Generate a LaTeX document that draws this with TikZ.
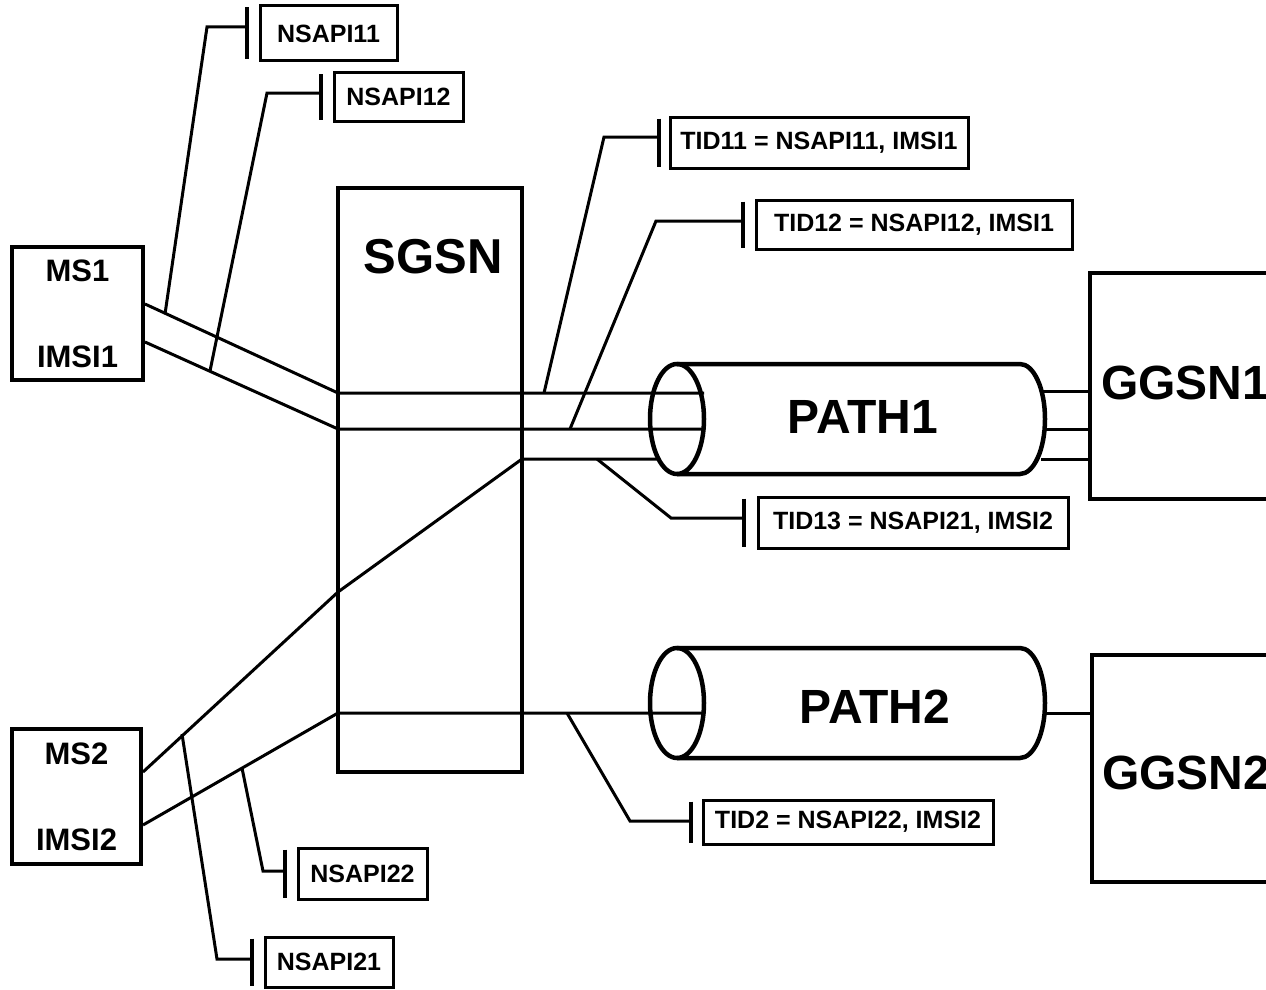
\documentclass[tikz,border=0pt]{standalone}
\usepackage{fontspec}
\setmainfont{Liberation Sans}
\usetikzlibrary{shapes.geometric}

\tikzset{
  unit/.style={draw, line width=4pt, inner sep=0pt},
  tag/.style={draw, line width=3pt, inner sep=0pt, font=\fontsize{25}{25}\selectfont\bfseries},
  wire/.style={line width=3pt},
  bar/.style={line width=4pt, shorten >=3pt, shorten <=3pt},
  pipe/.style={line width=4.5pt},
  pipeend/.style={draw, ellipse, line width=4.5pt, inner sep=0pt, outer sep=0pt, minimum width=54, minimum height=110},
  big/.style={inner sep=0pt, font=\fontsize{48}{48}\selectfont\bfseries},
  ms/.style={align=center, font=\fontsize{31}{86}\selectfont\bfseries},
}

\begin{document}
\begin{tikzpicture}[x=1pt, y=-1pt]
\useasboundingbox (0,0) rectangle (1266,990);
\clip (0,0) rectangle (1266,990);

% network elements
\node[unit, ms, minimum width=131, minimum height=133] (ms1) at (77.5,313.5) {MS1\\IMSI1};
\node[unit, ms, minimum width=129, minimum height=135] (ms2) at (76.5,796.5) {MS2\\IMSI2};
\node[unit, minimum width=184, minimum height=584] (sgsn) at (430,480) {};
\node[big, font=\fontsize{49}{49}\selectfont\bfseries] (sgsnt) at (433,257) {SGSN};
\node[unit, anchor=north west, minimum width=260, minimum height=226] (ggsn1) at (1088,271) {};
\node[big, anchor=west] (ggsn1t) at (1101,383) {GGSN1};
\node[unit, anchor=north west, minimum width=260, minimum height=227] (ggsn2) at (1090,653) {};
\node[big, anchor=west] (ggsn2t) at (1102,773) {GGSN2};

% paths
\draw[pipe] (677,364) -- (1020,364) arc[start angle=90, end angle=-90, x radius=25pt, y radius=55pt] -- (677,474);
\node[pipeend] (p1end) at (677,419) {};
\node[big] (p1) at (863,417) {PATH1};
\draw[pipe] (677,648) -- (1020,648) arc[start angle=90, end angle=-90, x radius=25pt, y radius=55pt] -- (677,758);
\node[pipeend] (p2end) at (677,703) {};
\node[big] (p2) at (875,707) {PATH2};

% tunnels
\coordinate (in1) at (338,393);
\coordinate (in2) at (338,429);
\coordinate (in3) at (338,592);
\coordinate (in4) at (338,713);
\coordinate (out3) at (522,459);
\coordinate (end3) at (659,459);
\draw[wire] ([yshift=9.5pt]ms1.east) -- (in1) -- (in1 -| p1end.east);
\draw[wire] ([yshift=-28.5pt]ms1.east) -- (in2) -- (in2 -| p1end.east);
\draw[wire] ([yshift=24.5pt]ms2.east) -- (in3) -- (out3) -- (end3);
\draw[wire] ([yshift=-28.5pt]ms2.east) -- (in4) -- (in4 -| p2end.east);

\coordinate (c1) at (1043,391);
\coordinate (c2) at (1046,429);
\coordinate (c3) at (1041,459);
\coordinate (c4) at (1045,713);
\draw[wire] (c1) -- (c1 -| ggsn1.west);
\draw[wire] (c2) -- (c2 -| ggsn1.west);
\draw[wire] (c3) -- (c3 -| ggsn1.west);
\draw[wire] (c4) -- (c4 -| ggsn2.west);

% NSAPI tags
\node[tag, minimum width=137, minimum height=55] (n11) at (328.5,33.5) {NSAPI11};
\coordinate (n11b) at ([xshift=-12pt]n11.west);
\draw[bar] (n11b |- n11.north) -- (n11b |- n11.south);
\coordinate (s11) at (165,314);
\draw[wire] (s11) -- (207,27) -- (207,27 -| n11b);

\node[tag, minimum width=129, minimum height=48] (n12) at (398.5,97) {NSAPI12};
\coordinate (n12b) at ([xshift=-12pt]n12.west);
\draw[bar] (n12b |- n12.north) -- (n12b |- n12.south);
\coordinate (s12) at (210,371);
\draw[wire] (s12) -- (267,93) -- (267,93 -| n12b);

\node[tag, minimum width=129, minimum height=51] (n22) at (362.5,873.5) {NSAPI22};
\coordinate (n22b) at ([xshift=-12pt]n22.west);
\draw[bar] (n22b |- n22.north) -- (n22b |- n22.south);
\coordinate (s22) at (242,768);
\draw[wire] (s22) -- (263,871) -- (263,871 -| n22b);

\node[tag, minimum width=128, minimum height=50] (n21) at (329,962) {NSAPI21};
\coordinate (n21b) at ([xshift=-12pt]n21.west);
\draw[bar] (n21b |- n21.north) -- (n21b |- n21.south);
\coordinate (s21) at (182,734);
\draw[wire] (s21) -- (217,959) -- (217,959 -| n21b);

% TID tags
\node[tag, minimum width=298, minimum height=51] (t11) at (819,142.5) {TID11 = NSAPI11, IMSI1};
\coordinate (t11b) at ([xshift=-10pt]t11.west);
\draw[bar] (t11b |- t11.north) -- (t11b |- t11.south);
\coordinate (u11) at (544,393);
\draw[wire] (u11) -- (604,137) -- (604,137 -| t11b);

\node[tag, minimum width=316, minimum height=49] (t12) at (914,224.5) {TID12 = NSAPI12, IMSI1};
\coordinate (t12b) at ([xshift=-12pt]t12.west);
\draw[bar] (t12b |- t12.north) -- (t12b |- t12.south);
\coordinate (u12) at (570,429);
\draw[wire] (u12) -- (656,221) -- (656,221 -| t12b);

\node[tag, minimum width=310, minimum height=51] (t13) at (913,522.5) {TID13 = NSAPI21, IMSI2};
\coordinate (t13b) at ([xshift=-13pt]t13.west);
\draw[bar] (t13b |- t13.north) -- (t13b |- t13.south);
\coordinate (u13) at (597,459);
\draw[wire] (u13) -- (671,518) -- (671,518 -| t13b);

\node[tag, minimum width=290, minimum height=44] (t2) at (848,822) {TID2 = NSAPI22, IMSI2};
\coordinate (t2b) at ([xshift=-11pt]t2.west);
\draw[bar] (t2b |- t2.north) -- (t2b |- t2.south);
\coordinate (u2) at (567,713);
\draw[wire] (u2) -- (630,821) -- (630,821 -| t2b);

\end{tikzpicture}
\end{document}
